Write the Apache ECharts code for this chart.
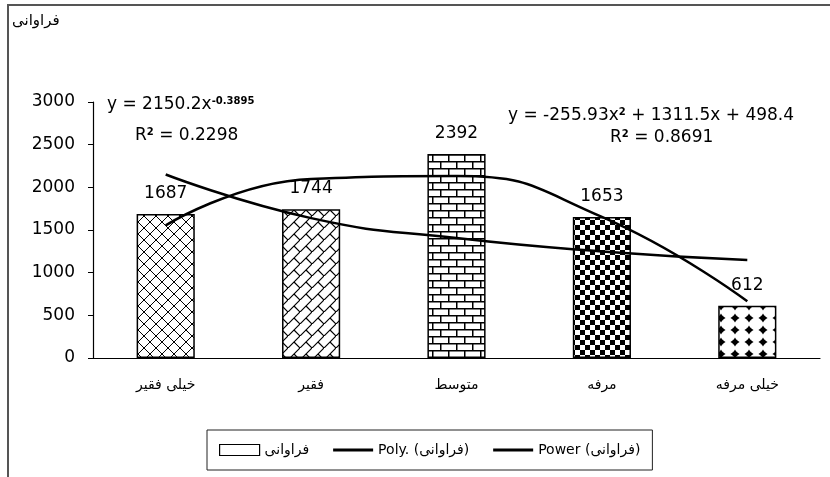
<!DOCTYPE html>
<html>
<head>
<meta charset="utf-8">
<script src="https://cdn.jsdelivr.net/npm/echarts@6/dist/echarts.min.js"></script>
<style>
  html, body { margin: 0; padding: 0; background: #fff; }
  #chart { width: 830px; height: 477px; }
</style>
</head>
<body>
<div id="chart"></div>
<script>
// categories (income groups) and frequencies
var categories = ['خیلی فقیر', 'فقیر', 'متوسط', 'مرفه', 'خیلی مرفه']
var freq = [1687, 1744, 2392, 1653, 612]
// trend lines at each category
var polyTrend = [1554, 2099, 2132, 1654, 664]
var powerTrend = [2150, 1639, 1405, 1249, 1149]
var yTicks = [0, 500, 1000, 1500, 2000, 2500, 3000]

var FONT = 'DejaVu Sans'
var LINE_ICON = 'path://M0,0h40v3h-40z'

function makeTile(w, h, draw) {
  var c = document.createElement('canvas')
  c.width = w
  c.height = h
  var ctx = c.getContext('2d')
  ctx.fillStyle = '#fff'
  ctx.fillRect(0, 0, w, h)
  ctx.strokeStyle = '#000'
  ctx.fillStyle = '#000'
  ctx.lineWidth = 1
  draw(ctx, w, h)
  return { image: c, repeat: 'repeat' }
}

// cross hatch
var pat1 = makeTile(12, 12, function (ctx) {
  ctx.beginPath()
  ctx.moveTo(0, 0); ctx.lineTo(12, 12)
  ctx.moveTo(12, 0); ctx.lineTo(0, 12)
  ctx.stroke()
})
// diagonal brick
var pat2 = makeTile(12, 12, function (ctx) {
  ctx.lineWidth = 1.2
  ctx.beginPath()
  ctx.moveTo(0, 12); ctx.lineTo(12, 0)
  ctx.moveTo(6, 6); ctx.lineTo(12, 12)
  ctx.stroke()
})
// horizontal brick
var pat3 = makeTile(16, 14, function (ctx) {
  ctx.fillRect(0, 0, 16, 1.5)
  ctx.fillRect(0, 7, 16, 1.5)
  ctx.fillRect(0, 0, 1.5, 7)
  ctx.fillRect(8, 7, 1.5, 7)
})
// checkerboard
var pat4 = makeTile(10, 10, function (ctx) {
  ctx.fillRect(0, 0, 5, 5)
  ctx.fillRect(5, 5, 5, 5)
})
// black rounded diamonds on white
var pat5 = makeTile(14, 12, function (ctx) {
  var cx = 7, cy = 6, r = 4.6
  ctx.beginPath()
  ctx.moveTo(cx, cy - r)
  ctx.quadraticCurveTo(cx + 1.2, cy - 1.2, cx + r, cy)
  ctx.quadraticCurveTo(cx + 1.2, cy + 1.2, cx, cy + r)
  ctx.quadraticCurveTo(cx - 1.2, cy + 1.2, cx - r, cy)
  ctx.quadraticCurveTo(cx - 1.2, cy - 1.2, cx, cy - r)
  ctx.closePath()
  ctx.fill()
  ctx.fillRect(cx - 2.2, cy - 2.2, 4.4, 4.4)
})
var patterns = [pat1, pat2, pat3, pat4, pat5]

var chart = echarts.init(document.getElementById('chart'))

var richSup = {
  a: { fontSize: 17, fontFamily: FONT, fill: '#000', verticalAlign: 'bottom' },
  s: { fontSize: 10, fontWeight: 'bold', fontFamily: FONT, fill: '#000', verticalAlign: 'top' }
}

var option = {
  backgroundColor: '#fff',
  animation: false,
  textStyle: { fontFamily: FONT, color: '#000' },
  grid: { left: 93, right: 10, top: 102, bottom: 119 },
  legend: {
    left: 207,
    top: 430,
    padding: [13, 12],
    itemGap: 24,
    itemWidth: 40,
    itemHeight: 11,
    borderColor: '#222',
    borderWidth: 1,
    textStyle: { fontFamily: FONT, fontSize: 14, color: '#000' },
    data: [
      { name: 'فراوانی', icon: 'rect', itemStyle: { color: '#fff', borderColor: '#000', borderWidth: 1.2 } },
      { name: 'Poly. (فراوانی)', icon: LINE_ICON, itemStyle: { color: '#000' } },
      { name: 'Power (فراوانی)', icon: LINE_ICON, itemStyle: { color: '#000' } }
    ]
  },
  xAxis: {
    type: 'category',
    data: categories,
    axisLine: { lineStyle: { color: '#000', width: 1.2 } },
    axisTick: { length: 6, lineStyle: { color: '#000' } },
    axisLabel: { margin: 20, fontSize: 14, color: '#000', fontFamily: FONT }
  },
  yAxis: {
    type: 'value',
    min: yTicks[0],
    max: yTicks[yTicks.length - 1],
    interval: 500,
    splitLine: { show: false },
    axisLine: { show: true, lineStyle: { color: '#000', width: 1.2 } },
    axisTick: { show: true, length: 5, lineStyle: { color: '#000' } },
    axisLabel: {
      margin: 18, fontSize: 17, color: '#000', fontFamily: FONT,
      formatter: function (v) { return String(v) }
    }
  },
  graphic: [
    {
      type: 'rect',
      shape: { x: 8, y: 5, width: 900, height: 600 },
      style: { fill: 'none', stroke: '#555', lineWidth: 2 },
      silent: true
    },
    {
      type: 'text', left: 12, top: 14,
      style: { text: 'فراوانی', font: '15px "DejaVu Sans"', fill: '#000' }
    },
    {
      type: 'text', left: 107, top: 96,
      style: { text: '{a|y = 2150.2x}{s|-0.3895}', rich: richSup }
    },
    {
      type: 'text', left: 135, top: 127,
      style: { text: '{a|R}{s|2}{a| = 0.2298}', rich: richSup }
    },
    {
      type: 'text', left: 508, top: 107,
      style: { text: '{a|y = -255.93x}{s|2}{a| + 1311.5x + 498.4}', rich: richSup }
    },
    {
      type: 'text', left: 610, top: 129,
      style: { text: '{a|R}{s|2}{a| = 0.8691}', rich: richSup }
    }
  ],
  series: [
    {
      name: 'فراوانی',
      type: 'bar',
      barWidth: '40%',
      data: freq.map(function (v, i) {
        return { value: v, itemStyle: { color: patterns[i] } }
      }),
      itemStyle: { borderColor: '#000', borderWidth: 1.5 },
      label: {
        show: true, position: 'top', distance: 12,
        fontSize: 17, color: '#000', fontFamily: FONT
      },
      z: 2
    },
    {
      name: 'Poly. (فراوانی)',
      type: 'line',
      data: polyTrend,
      smooth: 0.5,
      symbol: 'none',
      lineStyle: { color: '#000', width: 2.5 },
      itemStyle: { color: '#000' },
      z: 3
    },
    {
      name: 'Power (فراوانی)',
      type: 'line',
      data: powerTrend,
      smooth: 0.5,
      symbol: 'none',
      lineStyle: { color: '#000', width: 2.5 },
      itemStyle: { color: '#000' },
      z: 3
    }
  ]
}

chart.setOption(option)
</script>
</body>
</html>
